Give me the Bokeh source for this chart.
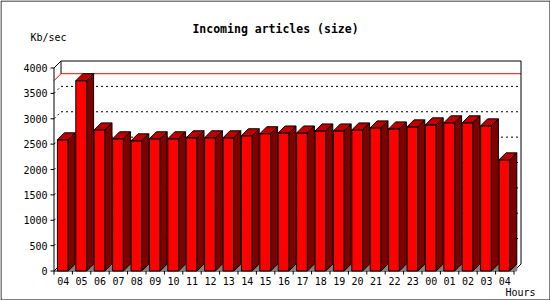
from bokeh.plotting import figure
from bokeh.models import Range1d
from bokeh.core.properties import value
from bokeh.embed import file_html
from bokeh.resources import INLINE

# ---- data ----
hours = ["04", "05", "06", "07", "08", "09", "10", "11", "12", "13", "14", "15",
         "16", "17", "18", "19", "20", "21", "22", "23", "00", "01", "02", "03", "04"]
kbps = [2585, 3750, 2780, 2605, 2565, 2605, 2605, 2625, 2625, 2625, 2665, 2705,
        2720, 2720, 2760, 2760, 2780, 2820, 2800, 2840, 2880, 2920, 2920, 2860, 2190]
y_ticks = [0, 500, 1000, 1500, 2000, 2500, 3000, 3500, 4000]
title_text = "Incoming articles (size)"
y_label = "Kb/sec"
x_label = "Hours"

# ---- layout (pixel geometry of the canvas) ----
W, H = 550, 300
X0, SX = 53.5, 18.4          # pixel of x=0, pixels per category slot
Y0, SY = 270.5, 203.0 / 4000  # pixel row of value 0, pixels per unit
DEPTH = 7


def xd(px):
    return (px - X0) / SX


def yd(py):
    return (Y0 - py) / SY


p = figure(width=W, height=H, x_range=Range1d(xd(0), xd(W)), y_range=Range1d(yd(H), yd(0)),
           output_backend="svg", toolbar_location=None, min_border=0,
           x_axis_location=None, y_axis_location=None)
p.grid.visible = False
p.outline_line_color = None
p.background_fill_color = "white"
p.border_fill_color = "white"

n = len(hours)
dx = DEPTH / SX
dy = DEPTH / SY
top = max(y_ticks)
vmax = max(kbps)

# ---- back wall grid (dotted) ----
gx0, gy0, gx1, gy1 = [], [], [], []
for v in y_ticks[1:-1]:
    gx0 += [0, dx]
    gy0 += [v, v + dy]
    gx1 += [dx, n + dx]
    gy1 += [v + dy, v + dy]
p.segment(gx0, gy0, gx1, gy1, line_color="black", line_width=1, line_dash="2 3")

# ---- max marker line (red) ----
p.segment([0, dx], [vmax, vmax + dy], [dx, n + dx], [vmax + dy, vmax + dy],
          line_color="#FF0000", line_width=1)

# ---- box frame ----
bx0 = [0, 0, dx, n + dx, 0, n, 0, dx]
by0 = [0, top, top + dy, top + dy, 0, 0, 0, top + dy]
bx1 = [0, dx, n + dx, n + dx, n, n + dx, dx, dx]
by1 = [top, top + dy, top + dy, dy, 0, dy, dy, vmax + dy]
p.segment(bx0, by0, bx1, by1, line_color="black", line_width=1)

# ---- bars ----
off = 3.4 / SX
bw = 10.8 / SX
fx, fy, fc = [], [], []
tri_x, tri_y = [], []
for i, v in enumerate(kbps):
    xl = i + off
    xr = xl + bw
    # front
    fx.append([xl, xr, xr, xl]); fy.append([0, 0, v, v]); fc.append("#FF0000")
    # top
    fx.append([xl, xr, xr + dx, xl + dx]); fy.append([v, v, v + dy, v + dy]); fc.append("#C00000")
    # side
    fx.append([xr, xr + dx, xr + dx, xr]); fy.append([0, dy, v + dy, v]); fc.append("#800000")
    # floor shadow
    tri_x.append([xr, xr + dx, xr + dx]); tri_y.append([0, dy, 0])

p.patches(tri_x, tri_y, fill_color="#808080", line_color="#808080", line_width=1)
p.patches(fx, fy, fill_color=fc, line_color="black", line_width=1)

# ---- ticks ----
p.segment([xd(50)] * len(y_ticks), y_ticks, [0] * len(y_ticks), y_ticks,
          line_color="black", line_width=1)
xt = list(range(n + 1))
p.segment(xt, [0] * len(xt), xt, [yd(274)] * len(xt), line_color="black", line_width=1)

mono = value("DejaVu Sans Mono")
p.text([xd(47)] * len(y_ticks), y_ticks, text=[str(v) for v in y_ticks],
       text_align="right", text_baseline="middle", text_font=mono,
       text_font_size="10px", text_color="black")
p.text([i + 0.5 for i in range(n)], [yd(280.5)] * n, text=hours,
       text_align="center", text_baseline="middle", text_font=mono,
       text_font_size="10px", text_color="black")
p.text([xd(275)], [yd(28.5)], text=[title_text], text_align="center",
       text_baseline="middle", text_font=mono, text_font_style="bold",
       text_font_size="11.5px", text_color="black")
p.text([xd(30)], [yd(37)], text=[y_label], text_align="left",
       text_baseline="middle", text_font=mono, text_font_size="10px", text_color="black")
p.text([xd(505)], [yd(292)], text=[x_label], text_align="left",
       text_baseline="middle", text_font=mono, text_font_size="10px", text_color="black")

# ---- outer border ----
L, R, T, B = xd(0.5), xd(549.5), yd(0.5), yd(299.5)
p.segment([L, L, R, L], [T, B, B, T], [R, R, R, L], [T, B, T, B],
          line_color="black", line_width=1)

open("out.html", "w").write(file_html(p, INLINE))
